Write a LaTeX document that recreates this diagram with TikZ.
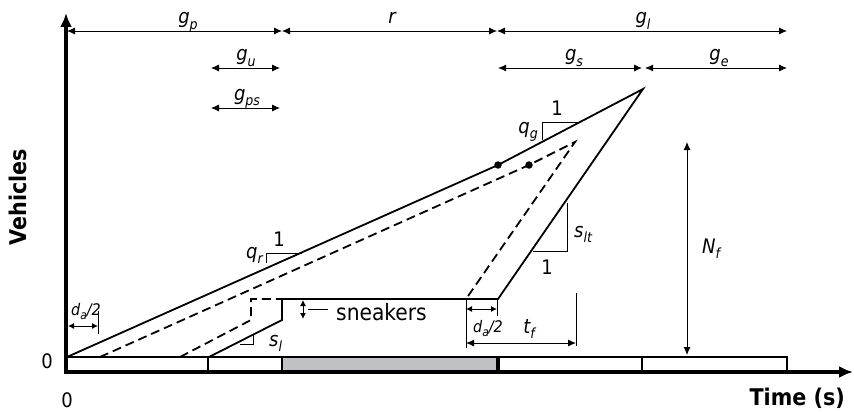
\documentclass[tikz,border=0pt]{standalone}
\usepackage{fontspec}
\setmainfont{DejaVu Sans Condensed}
\usetikzlibrary{arrows.meta}
\newcommand\lsub[1]{\raisebox{-0.28em}{\fontsize{14}{15}\selectfont #1}}
\newcommand\ssub[1]{\raisebox{-0.25em}{\fontsize{12}{13}\selectfont #1}}
\definecolor{bargray}{RGB}{192,193,197}
\tikzset{
  dimline/.style={line width=0.9pt,{Latex[length=8pt,width=7pt]}-{Latex[length=8pt,width=7pt]}},
  thinline/.style={line width=0.9pt},
  curve/.style={line width=1.8pt,line join=miter},
  dsh/.style={line width=1.8pt,dash pattern=on 9pt off 5pt},
  tri/.style={line width=1pt},
  lab/.style={font=\fontsize{20}{22}\selectfont\itshape,inner sep=0pt,anchor=base},
  num/.style={font=\fontsize{20}{22}\selectfont,inner sep=0pt,anchor=base},
  small/.style={font=\fontsize{16}{17}\selectfont\itshape,inner sep=0pt,anchor=base},
  barbox/.style={draw,line width=1.6pt,fill=white},
  axis/.style={line width=3.8pt,-{Latex[length=14pt,width=12pt]}},
  dot/.style={circle,fill=black,inner sep=0pt,minimum size=7.5pt}
}
\begin{document}
\begin{tikzpicture}[x=1pt,y=-1pt]
\useasboundingbox (0,0) rectangle (854,412);
% signal bar
\draw[barbox] (66,357) rectangle (208,371);
\draw[barbox] (208,357) rectangle (282,371);
\draw[barbox,fill=bargray] (282,357) rectangle (497,371);
\draw[barbox] (499,357) rectangle (642,371);
\draw[barbox] (642,357) rectangle (787,371);
% axes
\coordinate (ax0) at (66,374);
\coordinate (axV) at (66,13);
\coordinate (ax1) at (64,372);
\coordinate (axH) at (853,372);
\draw[axis] (ax0) -- (axV);
\draw[axis] (ax1) -- (axH);
% key points
\coordinate (O) at (67,357);
\coordinate (D1) at (498,165);
\coordinate (P) at (643,89);
\coordinate (S1) at (498,299);
\coordinate (S0) at (282,299);
\coordinate (S0b) at (282,320);
\coordinate (B) at (209,357);
\coordinate (A) at (100,357);
\coordinate (D2) at (529,165);
\coordinate (Q) at (575,142);
\coordinate (R) at (466,299);
\coordinate (C) at (180,357);
\coordinate (C1) at (251,320);
\coordinate (C2) at (251,299);
% curves
\draw[curve] (O) -- (D1) -- (P) -- (S1) -- (S0) -- (S0b) -- (B);
\draw[dsh] (A) -- (D2) -- (Q) -- (R);
\draw[dsh] (C) -- (C1) -- (C2) -- (S0);
\node[dot] (d1) at (D1) {};
\node[dot] (d2) at (D2) {};
% slope triangles
\draw[tri] (302,253) -- (266,253) -- (266,263);
\draw[tri] (578,122) -- (542,122) -- (542,140);
\draw[tri] (567,203) -- (567,251) -- (533,251);
\draw[tri] (240,344) -- (253,344) -- (253,335);
\node[num] (one1) at (279,246) {1};
\node[num] (one2) at (557,115) {1};
\node[num] (one3) at (547,274) {1};
\node[lab,anchor=base east] (qr) at (263,258) {q\lsub{r}};
\node[lab,anchor=base east] (qg) at (538,133) {q\lsub{g}};
\node[lab,anchor=base west] (slt) at (574,237) {s\lsub{lt}};
\node[lab,anchor=base west] (sl) at (269,346) {s\lsub{l}};
% top dimensions
\coordinate (t0) at (67,31); \coordinate (t1) at (282,31);
\coordinate (t2) at (497,31); \coordinate (t3) at (787,31);
\draw[dimline] (t0) -- (t1);
\draw[dimline] (t1) -- (t2);
\draw[dimline] (t2) -- (t3);
\coordinate (u0) at (211,68); \coordinate (u1) at (280,68);
\coordinate (s0) at (498,68); \coordinate (s1) at (642,68);
\coordinate (e0) at (645,68); \coordinate (e1) at (787,68);
\draw[dimline] (u0) -- (u1);
\draw[dimline] (s0) -- (s1);
\draw[dimline] (e0) -- (e1);
\coordinate (p0) at (211,108); \coordinate (p1) at (280,108);
\draw[dimline] (p0) -- (p1);
\node[lab] (gp) at (188,24) {g\lsub{p}};
\node[lab] (r) at (392,24) {r};
\node[lab] (gl) at (643,24) {g\lsub{l}};
\node[lab] (gu) at (246,61) {g\lsub{u}};
\node[lab] (gs) at (574,61) {g\lsub{s}};
\node[lab] (ge) at (719,61) {g\lsub{e}};
\node[lab] (gps) at (247,100) {g\lsub{ps}};
% sneakers
\coordinate (k0) at (303,300); \coordinate (k1) at (303,319);
\draw[line width=0.9pt,{Latex[length=6pt,width=6pt]}-{Latex[length=6pt,width=6pt]}] (k0) -- (k1);
\coordinate (k2) at (308,309); \coordinate (k3) at (328,309);
\draw[thinline] (k2) -- (k3);
\node[font=\fontsize{22.5}{24}\selectfont,inner sep=0pt,anchor=base west] (snk) at (336,320) {sneakers};
% d_a/2 left
\coordinate (L0) at (68,326); \coordinate (L1) at (98,326);
\coordinate (Lt0) at (98,311); \coordinate (Lt1) at (98,334);
\draw[dimline,{Latex[length=6pt,width=6pt]}-{Latex[length=6pt,width=6pt]}] (L0) -- (L1);
\draw[thinline] (Lt0) -- (Lt1);
\node[small] (dal) at (86,315) {d\ssub{a}/2};
% d_a/2 right and t_f
\coordinate (T0) at (466,299); \coordinate (T0b) at (466,348);
\coordinate (T1) at (497,299); \coordinate (T1b) at (497,316);
\coordinate (T2) at (576,293); \coordinate (T2b) at (576,346);
\draw[thinline] (T0) -- (T0b);
\draw[thinline] (T1) -- (T1b);
\draw[thinline] (T2) -- (T2b);
\coordinate (ra0) at (466,309); \coordinate (ra1) at (497,309);
\draw[dimline,{Latex[length=6pt,width=6pt]}-{Latex[length=6pt,width=6pt]}] (ra0) -- (ra1);
\coordinate (tf0) at (466,343); \coordinate (tf1) at (576,343);
\draw[dimline] (tf0) -- (tf1);
\node[small] (dar) at (488,332) {d\ssub{a}/2};
\node[lab] (tf) at (529,333) {t\lsub{f}};
% N_f
\coordinate (N0) at (687,142); \coordinate (N1) at (687,355);
\draw[dimline] (N0) -- (N1);
\node[lab] (nf) at (711,253) {N\lsub{f}};
% axis labels
\node[num] (zy) at (47,368) {0};
\node[num] (zx) at (67,407) {0};
\node[font=\fontsize{23}{25}\selectfont\bfseries,inner sep=0pt,anchor=base east] (time) at (845,405) {Time (s)};
\node[font=\fontsize{23}{25}\selectfont\bfseries,inner sep=0pt,rotate=90,anchor=base] (veh) at (27,197) {Vehicles};
\end{tikzpicture}
\end{document}
